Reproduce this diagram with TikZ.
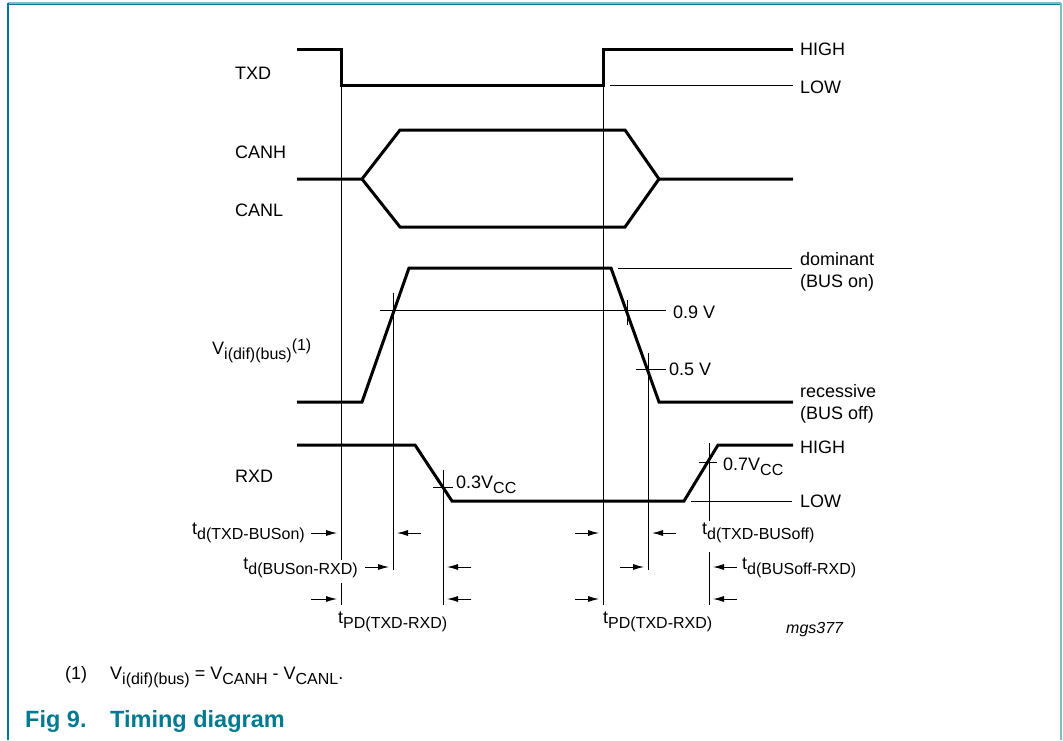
\documentclass[tikz,border=0pt]{standalone}
\usepackage{fontspec}
\setmainfont{Liberation Sans}
\usetikzlibrary{arrows.meta}
\definecolor{figteal}{RGB}{0,122,145}
\definecolor{lteal}{RGB}{130,188,200}
\newcommand{\lo}[1]{\raisebox{-5pt}{\fontsize{16}{16}\selectfont #1}}
\newcommand{\hi}[1]{\raisebox{4pt}{\fontsize{16}{16}\selectfont #1}}
\tikzset{
  wave/.style={line width=3pt, line join=miter},
  guide/.style={line width=0.9pt},
  lbl/.style={inner sep=0, anchor=base west, font=\fontsize{18}{20}\selectfont},
  rlbl/.style={lbl, anchor=base east},
  tarr/.style={line width=0.9pt, -{Latex[length=11pt,width=6pt]}},
}

\begin{document}
\begin{tikzpicture}[x=1pt,y=-1pt]
	\useasboundingbox (0,0) rectangle (1063,740);
	% frame
	\draw[lteal, line width=1.5pt] (8,3) -- (1061,3);
	\draw[figteal, line width=1.5pt] (8,4.5) -- (1061,4.5);
	\draw[figteal, line width=2pt] (8,3) -- (8,740);
	\draw[lteal, line width=2.5pt] (1061,3) -- (1061,740);

	% signal names
	\node (txd) at (235,79) [lbl] {TXD};
	\node (canh) at (235,158.5) [lbl] {CANH};
	\node (canl) at (235,216.5) [lbl] {CANL};
	\node (vdif) at (212,354) [lbl] {V\lo{i(dif)(bus)}\hi{(1)}};
	\node (rxd) at (235,482) [lbl] {RXD};

	% waveforms
	\draw[wave] (297,49) -- (341,49) -- (341,85) -- (603,85) -- (603,49) -- (793,49);
	\draw[wave] (297,179) -- (362,179) -- (400,130) -- (625,130) -- (659,179) -- (793,179);
	\draw[wave] (362,179) -- (400,227) -- (625,227) -- (659,179);
	\draw[wave] (297,402) -- (362,402) -- (409,268) -- (611,268) -- (659,402) -- (793,402);
	\draw[wave] (297,445) -- (415,445) -- (452,501) -- (684,501) -- (718,445) -- (793,445);

	% levels
	\draw[guide] (610,85) -- (793,85);
	\node (txdhigh) at (800,55.5) [lbl] {HIGH};
	\node (txdlow) at (800,93.5) [lbl] {LOW};
	\draw[guide] (618,268) -- (792,268);
	\node (dom) at (800,265) [lbl] {dominant};
	\node (domb) at (800,287) [lbl] {(BUS on)};
	\node (rec) at (800,397) [lbl] {recessive};
	\node (recb) at (800,419) [lbl] {(BUS off)};
	\draw[guide] (380,310) -- (666,310);
	\node (v09) at (673,318) [lbl] {0.9 V};
	\draw[guide] (636,369) -- (666,369);
	\node (v05) at (669,375) [lbl] {0.5 V};
	\draw[guide] (691,501) -- (792,501);
	\node (rxdhigh) at (800,453) [lbl] {HIGH};
	\node (rxdlow) at (800,507) [lbl] {LOW};
	\draw[guide] (433,487) -- (453,487);
	\node (v03) at (456,488) [lbl] {0.3V\lo{CC}};
	\draw[guide] (699,462) -- (717,462);
	\node (v07) at (723,470) [lbl] {0.7V\lo{CC}};

	% markers
	\draw[guide] (341,85) -- (341,560);
	\draw[guide] (341,583) -- (341,605);
	\draw[guide] (603,85) -- (603,605);
	\draw[guide] (393,293) -- (393,570);
	\draw[guide] (627,300) -- (627,325);
	\draw[guide] (648,353) -- (648,570);
	\draw[guide] (443,470) -- (443,605);
	\draw[guide] (709,443) -- (709,521);
	\draw[guide] (709,552) -- (709,605);

	% delay arrows
	\draw[tarr] (311,533) -- (337,533);
	\draw[tarr] (421,533) -- (397,533);
	\draw[tarr] (575,533) -- (599,533);
	\draw[tarr] (676,533) -- (652,533);
	\draw[tarr] (365,567) -- (389,567);
	\draw[tarr] (471,567) -- (447,567);
	\draw[tarr] (620,567) -- (644,567);
	\draw[tarr] (737,567) -- (713,567);
	\draw[tarr] (311,599) -- (337,599);
	\draw[tarr] (471,599) -- (447,599);
	\draw[tarr] (575,599) -- (599,599);
	\draw[tarr] (737,599) -- (713,599);

	% delay names
	\node (tdon) at (305,534) [rlbl] {t\lo{d(TXD-BUSon)}};
	\node (tdonrx) at (358,569) [rlbl] {t\lo{d(BUSon-RXD)}};
	\node (tdoff) at (702,534) [lbl] {t\lo{d(TXD-BUSoff)}};
	\node (tdoffrx) at (742,569) [lbl] {t\lo{d(BUSoff-RXD)}};
	\node (tpdon) at (338,623) [lbl] {t\lo{PD(TXD-RXD)}};
	\node (tpdoff) at (603,623) [lbl] {t\lo{PD(TXD-RXD)}};
	\node (code) at (786,633) [lbl, font=\fontsize{16}{18}\selectfont\itshape] {mgs377};

	% note and caption
	\node (note) at (65,679) [lbl] {(1)};
	\node (eq) at (110,679) [lbl] {V\lo{i(dif)(bus)} = V\lo{CANH} - V\lo{CANL}.};
	\node (fig) at (25,727) [lbl, text=figteal, font=\fontsize{23.5}{26}\selectfont\bfseries] {Fig 9.};
	\node (title) at (110,727) [lbl, text=figteal, font=\fontsize{23.5}{26}\selectfont\bfseries] {Timing diagram};
\end{tikzpicture}
\end{document}
